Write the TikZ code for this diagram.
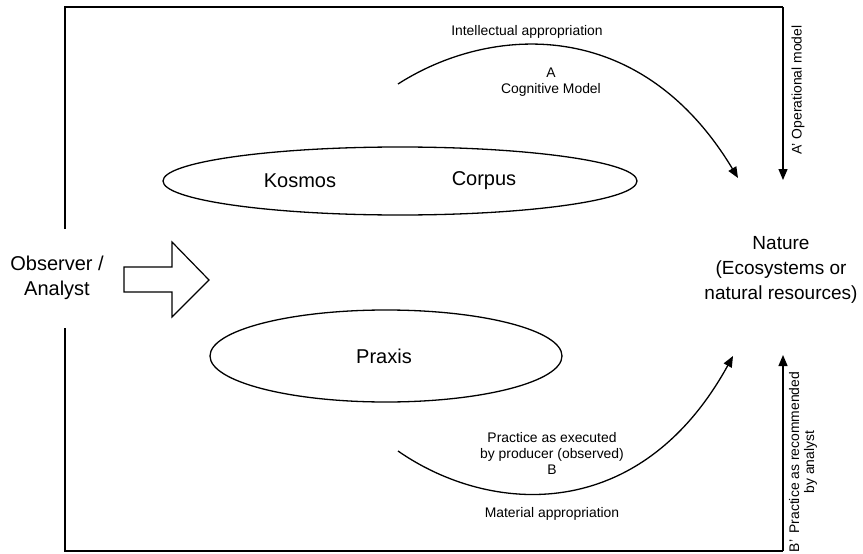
\documentclass[tikz,border=0pt]{standalone}
\usepackage{fontspec}
\setmainfont{Liberation Sans}
\usetikzlibrary{arrows.meta,shapes.geometric}
\begin{document}
\begin{tikzpicture}[x=1pt,y=-1pt,
  line/.style={line width=1.3pt,black},
  arr/.style={line width=1.3pt,-{Triangle[length=11pt,width=9pt]}},
  big/.style={font=\fontsize{20}{25}\selectfont,align=center,inner sep=0pt},
  small/.style={font=\fontsize{13.9}{16}\selectfont,align=center,inner sep=0pt},
  oval/.style={draw,line width=1.3pt,ellipse,inner sep=0pt}]
\useasboundingbox (0,0) rectangle (863,554);
% frame
\coordinate (lt1) at (65,229);
\coordinate (tl) at (65,7);
\coordinate (tr) at (783,7);
\coordinate (tA) at (783,180);
\coordinate (lb1) at (65,328);
\coordinate (bl) at (65,551);
\coordinate (br) at (783,551);
\coordinate (tB) at (783,355);
\draw[line] (lt1) -- (tl) -- (tr);
\draw[arr] (tr) -- (tA);
\draw[line] (lb1) -- (bl) -- (br);
\draw[arr] (br) -- (tB);
% ellipses
\node[oval,minimum width=474pt,minimum height=68pt] (kc) at (400,181) {};
\node[oval,minimum width=352pt,minimum height=92pt] (px) at (386,356) {};
\node[big] (kos) at (300,181) {Kosmos};
\node[big] (cor) at (484,181) {Corpus};
\node[big] (pra) at (384,356) {Praxis};
% observer
\node[big] (obs) at (57,278) {Observer /\\Analyst};
\draw[line,line width=1.2pt] (124,267) -- (172,267) -- (172,242) -- (209,280) -- (172,317) -- (172,292) -- (124,292) -- cycle;
% nature
\node[big,font=\fontsize{19}{25}\selectfont] (nat) at (781,270) {Nature\\(Ecosystems or\\natural resources)};
% curves
\coordinate (ca) at (398,84);
\coordinate (cb) at (398,451);
\coordinate (na) at (738,178);
\coordinate (nb) at (733,356);
\draw[arr] (ca) .. controls (490,25) and (640,15) .. (na);
\draw[arr] (cb) .. controls (490,515) and (640,525) .. (nb);
% labels
\node[small] (ia) at (527,32) {Intellectual appropriation};
\node[small] (am) at (551,82) {A\\Cognitive Model};
\node[small] (pe) at (552,453) {Practice as executed\\by producer (observed)\\B};
\node[small] (ma) at (552,514) {Material appropriation};
\node[small,rotate=90] (op) at (798,90) {A' Operational model};
\node[small,rotate=90,font=\fontsize{13.9}{15}\selectfont] (pr) at (803,462) {B'\, Practice as recommended\\by analyst};
\end{tikzpicture}
\end{document}
